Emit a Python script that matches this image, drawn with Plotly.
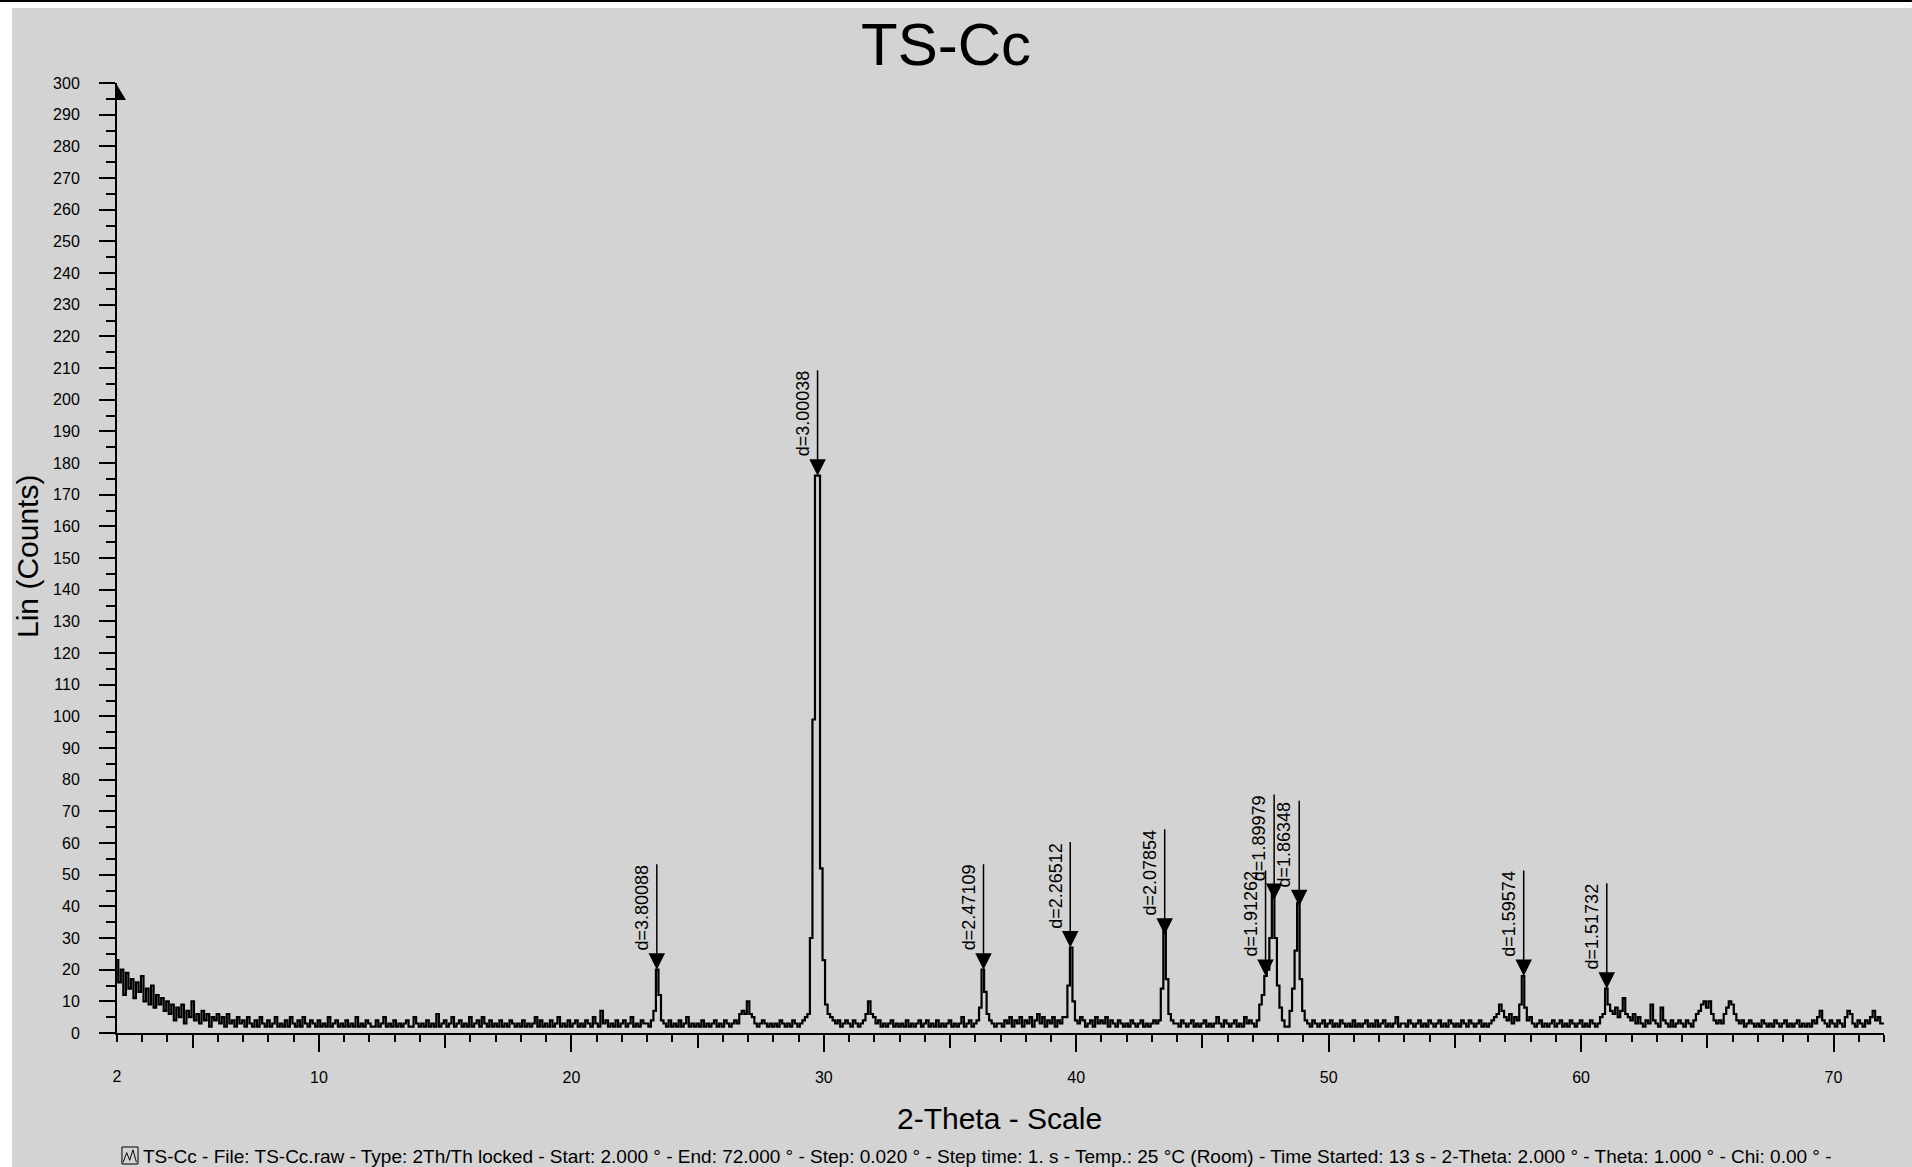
import numpy as np
import plotly.graph_objects as go

# Scan settings
SCAN_START = 2.0      # degrees 2-theta
SCAN_STEP = 0.1       # degrees 2-theta
WAVELENGTH = 1.5406   # Cu K-alpha1, angstrom

# Intensity (Lin counts), one row per degree of 2-theta: x.0, x.1, ... x.9
counts_by_degree = [
    [23, 16, 20, 12, 19, 14, 17, 11, 16, 13],   # 2
    [18, 10, 14, 9, 15, 8, 12, 9, 11, 7],       # 3
    [10, 6, 9, 4, 8, 5, 9, 3, 7, 5],            # 4
    [10, 4, 6, 3, 7, 4, 6, 2, 5, 4],            # 5
    [6, 3, 5, 2, 6, 3, 4, 2, 5, 3],             # 6
    [4, 2, 5, 3, 2, 4, 2, 5, 3, 2],             # 7
    [4, 2, 3, 5, 2, 3, 2, 4, 2, 5],             # 8
    [3, 2, 4, 2, 5, 3, 2, 4, 3, 2],             # 9
    [4, 2, 3, 2, 5, 2, 3, 4, 2, 3],             # 10
    [2, 4, 2, 3, 2, 5, 2, 3, 2, 4],             # 11
    [3, 2, 2, 4, 2, 3, 5, 2, 3, 2],             # 12
    [4, 2, 3, 2, 3, 4, 2, 2, 5, 3],             # 13
    [2, 3, 2, 4, 2, 3, 2, 6, 2, 3],             # 14
    [4, 2, 3, 5, 2, 3, 4, 2, 3, 2],             # 15
    [5, 2, 3, 4, 2, 5, 3, 2, 4, 2],             # 16
    [3, 2, 4, 2, 3, 2, 4, 3, 2, 3],             # 17
    [2, 4, 2, 3, 2, 3, 5, 2, 4, 2],             # 18
    [3, 2, 4, 2, 3, 5, 2, 3, 2, 4],             # 19
    [2, 3, 4, 2, 3, 2, 4, 3, 2, 5],             # 20
    [3, 2, 7, 3, 4, 2, 3, 2, 4, 2],             # 21
    [3, 4, 2, 3, 5, 2, 3, 2, 4, 3],             # 22
    [3, 2, 4, 7, 20, 12, 4, 3, 2, 4],           # 23
    [2, 3, 2, 4, 2, 3, 5, 2, 3, 2],             # 24
    [3, 2, 4, 2, 3, 2, 3, 4, 2, 3],             # 25
    [2, 4, 3, 2, 3, 4, 3, 6, 7, 6],             # 26
    [10, 6, 5, 3, 2, 3, 4, 3, 2, 3],            # 27
    [2, 3, 2, 4, 3, 2, 3, 2, 4, 3],             # 28
    [2, 3, 4, 5, 6, 30, 99, 176, 176, 52],      # 29
    [23, 9, 6, 5, 4, 3, 4, 2, 3, 4],            # 30
    [3, 2, 4, 3, 2, 3, 4, 6, 10, 6],            # 31
    [5, 3, 4, 2, 3, 2, 3, 4, 2, 3],             # 32
    [2, 3, 2, 4, 2, 3, 2, 3, 4, 2],             # 33
    [3, 4, 2, 3, 2, 4, 2, 3, 2, 3],             # 34
    [4, 2, 3, 2, 3, 5, 2, 3, 4, 2],             # 35
    [3, 4, 8, 20, 13, 6, 4, 3, 2, 3],           # 36
    [3, 2, 4, 3, 5, 2, 4, 3, 5, 2],             # 37
    [4, 3, 5, 2, 4, 6, 3, 5, 2, 4],             # 38
    [3, 5, 2, 4, 3, 5, 5, 15, 27, 10],          # 39
    [4, 3, 5, 4, 2, 3, 4, 2, 5, 3],             # 40
    [4, 3, 5, 2, 4, 3, 2, 4, 3, 2],             # 41
    [3, 2, 4, 3, 2, 3, 4, 2, 3, 2],             # 42
    [3, 4, 3, 4, 14, 33, 17, 6, 4, 3],          # 43
    [3, 2, 4, 3, 2, 3, 4, 2, 3, 2],             # 44
    [3, 4, 2, 3, 2, 3, 5, 3, 2, 4],             # 45
    [3, 2, 3, 4, 2, 3, 2, 5, 3, 4],             # 46
    [3, 2, 4, 9, 12, 18, 20, 30, 45, 30],       # 47
    [15, 8, 4, 2, 2, 7, 14, 26, 41, 17],        # 48
    [7, 4, 3, 2, 4, 3, 2, 3, 4, 2],             # 49
    [3, 4, 2, 3, 2, 4, 3, 2, 3, 2],             # 50
    [4, 2, 3, 2, 3, 4, 2, 3, 2, 4],             # 51
    [2, 3, 4, 2, 3, 2, 3, 5, 2, 3],             # 52
    [3, 2, 4, 3, 2, 3, 4, 2, 3, 2],             # 53
    [4, 3, 2, 3, 4, 2, 3, 2, 4, 3],             # 54
    [2, 3, 2, 4, 3, 2, 4, 3, 2, 3],             # 55
    [4, 2, 3, 2, 3, 4, 5, 6, 9, 7],             # 56
    [5, 4, 6, 3, 5, 4, 9, 18, 8, 4],            # 57
    [5, 3, 2, 3, 4, 2, 3, 2, 3, 4],             # 58
    [2, 3, 4, 2, 3, 2, 4, 3, 2, 3],             # 59
    [4, 2, 3, 2, 4, 3, 2, 3, 5, 6],             # 60
    [14, 9, 7, 6, 8, 5, 7, 11, 6, 5],           # 61
    [4, 6, 3, 5, 3, 2, 4, 3, 9, 4],             # 62
    [3, 2, 8, 4, 3, 2, 4, 2, 3, 4],             # 63
    [3, 2, 4, 3, 2, 4, 6, 7, 9, 10],            # 64
    [8, 10, 6, 4, 3, 4, 3, 6, 8, 10],           # 65
    [9, 6, 4, 3, 4, 2, 3, 4, 3, 2],             # 66
    [3, 2, 4, 3, 2, 3, 2, 4, 3, 2],             # 67
    [3, 4, 2, 3, 2, 3, 4, 2, 3, 2],             # 68
    [3, 2, 4, 3, 5, 7, 4, 3, 2, 4],             # 69
    [3, 2, 4, 3, 2, 5, 7, 6, 3, 2],             # 70
    [4, 3, 2, 4, 3, 5, 7, 4, 5, 3],             # 71
    [3],                                        # 72
]

# Peak search results: d-spacings (angstrom) and marker heights (counts)
d_spacings = [3.80088, 3.00038, 2.47109, 2.26512, 2.07854,
              1.91262, 1.89979, 1.86348, 1.59574, 1.51732]
peak_tops = [20, 176, 20, 27, 31, 18, 42, 40, 18, 14]

# Axis ticks
y_ticks = list(range(0, 301, 10))
x_label_ticks = [10, 20, 30, 40, 50, 60, 70]
x_mid_ticks = [5, 15, 25, 35, 45, 55, 65]

caption = ("TS-Cc - File: TS-Cc.raw - Type: 2Th/Th locked - Start: 2.000 \u00b0 - "
           "End: 72.000 \u00b0 - Step: 0.020 \u00b0 - Step time: 1. s - Temp.: 25 \u00b0C (Room) - "
           "Time Started: 13 s - 2-Theta: 2.000 \u00b0 - Theta: 1.000 \u00b0 - Chi: 0.00 \u00b0 -")

counts = np.array([c for row in counts_by_degree for c in row], dtype=float)
two_theta = SCAN_START + SCAN_STEP * np.arange(len(counts))

FONT = "Arial, Liberation Sans, sans-serif"
GREY = "#d3d3d3"

fig = go.Figure()
fig.add_trace(go.Scatter(
    x=two_theta, y=counts, mode="lines", line=dict(color="black", width=2.2, shape="hvh"),
    showlegend=False, hoverinfo="x+y",
))
# helper traces so the overlay tick axes get drawn
for ax_id in ("x2", "x3"):
    fig.add_trace(go.Scatter(x=[], y=[], xaxis=ax_id, yaxis="y", showlegend=False))

annotations = []
for d, top in zip(d_spacings, peak_tops):
    pos = 2 * np.degrees(np.arcsin(WAVELENGTH / (2 * d)))
    annotations.append(dict(
        x=pos, y=top, xref="x", yref="y", text="", showarrow=True,
        ax=0, ay=-107, arrowhead=2, arrowsize=2.2, arrowwidth=1.5, arrowcolor="black",
    ))
    annotations.append(dict(
        x=pos, y=top, xref="x", yref="y", text=f"d={d:.5f}", showarrow=False,
        textangle=-90, xanchor="right", yanchor="bottom", xshift=-3, yshift=17,
        font=dict(family=FONT, size=18, color="black"),
    ))

# axis titles and run caption
annotations += [
    dict(text="Lin (Counts)", xref="paper", yref="paper", x=-0.051, y=0.502,
         textangle=-90, showarrow=False, xanchor="center", yanchor="middle",
         font=dict(family=FONT, size=30, color="black")),
    dict(text="2-Theta - Scale", xref="paper", yref="paper", x=0.4997, y=-0.0905,
         showarrow=False, xanchor="center", yanchor="middle",
         font=dict(family=FONT, size=30, color="black")),
    dict(text=caption, xref="paper", yref="paper", x=0.0136, y=-0.1295,
         showarrow=False, xanchor="left", yanchor="middle",
         font=dict(family=FONT, size=19, color="black")),
]

shapes = [
    # white frame strips along the top and left edges
    dict(type="rect", xref="paper", yref="paper", x0=-0.0662, x1=1.0158, y0=1.0789, y1=1.0874,
         fillcolor="white", line_width=0, layer="above"),
    dict(type="rect", xref="paper", yref="paper", x0=-0.0662, x1=-0.0594, y0=-0.1474, y1=1.0874,
         fillcolor="white", line_width=0, layer="above"),
    dict(type="rect", xref="paper", yref="paper", x0=-0.0662, x1=1.0158, y0=1.0853, y1=1.0874,
         fillcolor="black", line_width=0, layer="above"),
    # arrow tip on top of the intensity axis
    dict(type="path", xref="x", yref="y", xsizemode="pixel", ysizemode="pixel",
         xanchor=2, yanchor=300, path="M0,-2 L0,-17 L9,-17 Z",
         fillcolor="black", line_width=0, layer="above"),
    # small scan icon in front of the caption
    dict(type="rect", xref="paper", yref="paper", x0=0.0028, x1=0.0119, y0=-0.1379, y1=-0.1200,
         fillcolor="rgba(0,0,0,0)", line=dict(color="black", width=1), layer="above"),
    dict(type="path", xref="paper", yref="paper",
         path="M0.0035,-0.1360 L0.0055,-0.1260 L0.0072,-0.1340 L0.0090,-0.1230 L0.0110,-0.1360",
         line=dict(color="black", width=1), layer="above"),
]

tick_common = dict(ticks="outside", tickcolor="black", tickwidth=2,
                   tickfont=dict(family=FONT, size=16, color="black"),
                   showgrid=False, zeroline=False)

fig.update_layout(
    width=1912, height=1167,
    margin=dict(l=117, r=28, t=83, b=134),
    paper_bgcolor=GREY, plot_bgcolor=GREY,
    font=dict(family=FONT, color="black"),
    title=dict(text="TS-Cc", x=0.4948, xanchor="center", y=0.9623, yanchor="middle",
               font=dict(family=FONT, size=60, color="black")),
    xaxis=dict(range=[2, 72], tickvals=x_label_ticks, ticklen=17, showline=True,
               linecolor="black", linewidth=2, ticklabelstandoff=12,
               minor=dict(tick0=2, dtick=1, ticklen=7, tickwidth=2, tickcolor="black",
                          ticks="outside", showgrid=False),
               **tick_common),
    xaxis2=dict(range=[2, 72], overlaying="x", anchor="y", side="bottom",
                tickvals=x_mid_ticks, ticklen=14, showticklabels=False, showline=False,
                **tick_common),
    xaxis3=dict(range=[2, 72], overlaying="x", anchor="y", side="bottom",
                tickvals=[2], ticktext=["2"], ticklen=7, showline=False,
                ticklabelstandoff=22, **tick_common),
    yaxis=dict(range=[0, 300], tickvals=y_ticks, ticklen=16, showline=True,
               linecolor="black", linewidth=2, ticklabelstandoff=16,
               minor=dict(dtick=5, ticklen=9, tickwidth=2, tickcolor="black",
                          ticks="outside", showgrid=False),
               **tick_common),
    annotations=annotations,
    shapes=shapes,
    showlegend=False,
)

fig.write_html("out.html", config={"displayModeBar": False})
